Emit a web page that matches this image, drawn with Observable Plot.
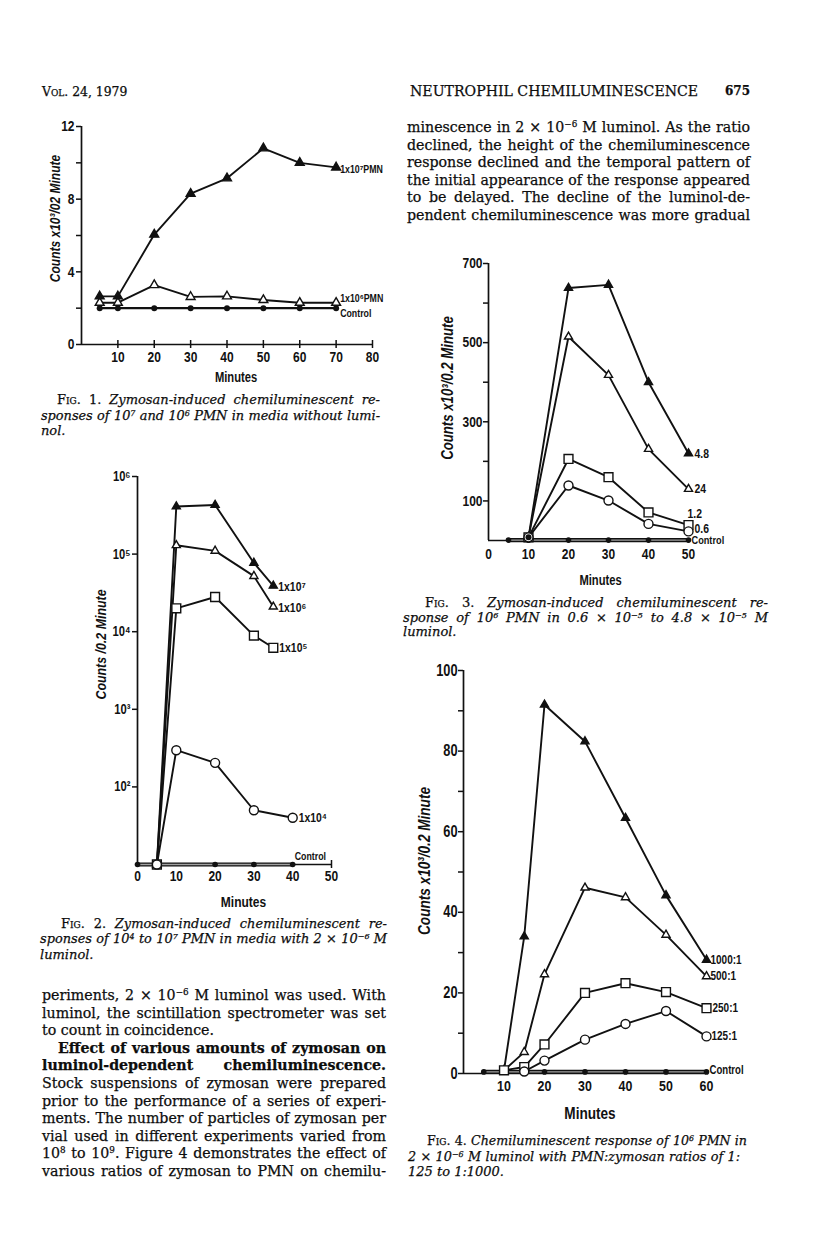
<!DOCTYPE html>
<html><head><meta charset="utf-8">
<script src="https://cdn.jsdelivr.net/npm/d3@7"></script>
<script src="https://cdn.jsdelivr.net/npm/@observablehq/plot@0.6"></script>
<style>
html,body{margin:0;padding:0;background:#fff;}
#page{position:relative;width:816px;height:1252px;overflow:hidden;background:#fff;color:#0d0d0d;}
.ln{position:absolute;font-family:"DejaVu Serif","Liberation Serif",serif;font-size:14.2px;line-height:18px;white-space:nowrap;-webkit-text-stroke:0.25px #0d0d0d;}
.cap{font-size:13px;line-height:16px;}
.sc{font-variant:small-caps;}
.b{font-weight:bold;}
sup{font-size:0.62em;line-height:0;vertical-align:0.55em;}
.fig{position:absolute;}
.fig svg{overflow:visible;}
</style></head>
<body><div id="page"></div>
<script>
// ================= DATA =================
// Fig. 1 (counts x10^3 / 0.2 min, no luminol)
const fig1Minutes = [5, 10, 20, 30, 40, 50, 60, 70];
const fig1PMN7 = [2.65, 2.65, 6.05, 8.3, 9.15, 10.8, 10.0, 9.75];
const fig1PMN6 = [2.3, 2.3, 3.27, 2.62, 2.65, 2.45, 2.3, 2.3];
const fig1Control = [2.0, 2.0, 2.0, 2.0, 2.0, 2.0, 2.0, 2.0];
const fig1Labels = ["1x10⁷PMN", "1x10⁶PMN", "Control"];
const fig1XTicks = [10, 20, 30, 40, 50, 60, 70, 80];
const fig1YTicks = [0, 2, 4, 6, 8, 10, 12];
const fig1YTickLabels = ["0", "", "4", "", "8", "", "12"];

// Fig. 2 (counts / 0.2 min, log scale)
const fig2Minutes = [5, 10, 20, 30, 35];
const fig2PMN7 = [10, 410000, 430000, 77000, 39000];
const fig2PMN6 = [10, 130000, 110000, 52000, 21000];
const fig2PMN5 = [10, 20000, 28000, 8900, 6200];
const fig2PMN4Minutes = [5, 10, 20, 30, 40];
const fig2PMN4 = [10, 297, 204, 50, 40];
const fig2ControlMinutes = [0, 5, 20, 30, 40];
const fig2Control = [10, 10, 10, 10, 10];
const fig2Labels = ["1x10⁷", "1x10⁶", "1x10⁵", "1x10⁴", "Control"];
const fig2XTicks = [0, 10, 20, 30, 40, 50];
const fig2YTicks = [100, 1000, 10000, 100000, 1000000];
const fig2YTickLabels = ["10²", "10³", "10⁴", "10⁵", "10⁶"];

// Fig. 3 (luminol concentrations)
const fig3Minutes = [10, 20, 30, 40, 50];
const fig3L48 = [8, 638, 646, 400, 220];
const fig3L24 = [8, 515, 418, 231, 130];
const fig3L12 = [8, 206, 160, 71, 39];
const fig3L06 = [8, 139, 101, 42, 23];
const fig3ControlMinutes = [5, 10, 20, 30, 40, 50];
const fig3Control = [1, 1, 1, 1, 1, 1];
const fig3Labels = ["4.8", "24", "1.2", "0.6", "Control"];
const fig3XTicks = [0, 10, 20, 30, 40, 50];
const fig3YTicks = [100, 200, 300, 400, 500, 600, 700];
const fig3YTickLabels = ["100", "", "300", "", "500", "", "700"];

// Fig. 4 (PMN:zymosan ratios)
const fig4Minutes = [10, 15, 20, 30, 40, 50, 60];
const fig4R1000 = [0.8, 34, 91.5, 82.4, 63.4, 44.2, 28.2];
const fig4R500 = [0.8, 5.3, 24.6, 46.1, 43.7, 34.4, 24.1];
const fig4R250 = [0.8, 1.6, 7.2, 20.0, 22.4, 20.2, 16.2];
const fig4R125Minutes = [15, 20, 30, 40, 50, 60];
const fig4R125 = [0.5, 3.2, 8.4, 12.3, 15.5, 9.2];
const fig4ControlMinutes = [5, 10, 15, 20, 30, 40, 50, 60];
const fig4Control = [0.4, 0.4, 0.4, 0.4, 0.4, 0.4, 0.4, 0.4];
const fig4Labels = ["1000:1", "500:1", "250:1", "125:1", "Control"];
const fig4XTicks = [10, 20, 30, 40, 50, 60];
const fig4YTicks = [0, 10, 20, 30, 40, 50, 60, 70, 80, 90, 100];
const fig4YTickLabels = ["0", "", "20", "", "40", "", "60", "", "80", "", "100"];

// ================= PAGE TEXT =================
const headerLeft = '<span class="sc">Vol.</span> 24, 1979';
const headerTitle = 'NEUTROPHIL CHEMILUMINESCENCE';
const headerPage = '675';
const rightBody = [
  'minescence in 2 × 10<sup>−6</sup> M luminol. As the ratio',
  'declined, the height of the chemiluminescence',
  'response declined and the temporal pattern of',
  'the initial appearance of the response appeared',
  'to be delayed. The decline of the luminol-de-',
  'pendent chemiluminescence was more gradual'
];
const leftBody = [
  'periments, 2 × 10<sup>−6</sup> M luminol was used. With',
  'luminol, the scintillation spectrometer was set',
  'to count in coincidence.',
  'Effect of various amounts of zymosan on',
  'luminol-dependent chemiluminescence.',
  'Stock suspensions of zymosan were prepared',
  'prior to the performance of a series of experi-',
  'ments. The number of particles of zymosan per',
  'vial used in different experiments varied from',
  '10<sup>8</sup> to 10<sup>9</sup>. Figure 4 demonstrates the effect of',
  'various ratios of zymosan to PMN on chemilu-'
];
const cap1 = [
  '<span class="sc">Fig.</span> 1. <i>Zymosan-induced chemiluminescent re-</i>',
  '<i>sponses of 10<sup>7</sup> and 10<sup>6</sup> PMN in media without lumi-</i>',
  '<i>nol.</i>'
];
const cap2 = [
  '<span class="sc">Fig.</span> 2. <i>Zymosan-induced chemiluminescent re-</i>',
  '<i>sponses of 10<sup>4</sup> to 10<sup>7</sup> PMN in media with 2 × 10<sup>−6</sup> M</i>',
  '<i>luminol.</i>'
];
const cap3 = [
  '<span class="sc">Fig.</span> 3. <i>Zymosan-induced chemiluminescent re-</i>',
  '<i>sponse of 10<sup>6</sup> PMN in 0.6 × 10<sup>−5</sup> to 4.8 × 10<sup>−5</sup> M</i>',
  '<i>luminol.</i>'
];
const cap4 = [
  '<span class="sc">Fig.</span> 4. <i>Chemiluminescent response of 10<sup>6</sup> PMN in</i>',
  '<i>2 × 10<sup>−6</sup> M luminol with PMN:zymosan ratios of 1:</i>',
  '<i>125 to 1:1000.</i>'
];

// ================= HELPERS =================
const page = document.getElementById("page");
const INK = "#111";
const SANS = '"Liberation Sans",Arial,"DejaVu Sans",sans-serif';
const CONDENSE = 0.8;

function putLine(html, x, yc, w, opts = {}) {
  const {cls = "", justify = false, exact = false} = opts;
  const d = document.createElement("div");
  d.className = "ln " + cls;
  d.innerHTML = html;
  page.appendChild(d);
  const cs = getComputedStyle(d);
  const lh = parseFloat(cs.lineHeight);
  const fs = parseFloat(cs.fontSize);
  d.style.top = (yc - lh / 2) + "px";
  d.style.left = x + "px";
  const nat = d.getBoundingClientRect().width;
  if (exact) d.style.fontSize = (fs * w / nat) + "px";
  else if (nat > w - 2) d.style.fontSize = (fs * (w - 2) / nat) + "px";
  if (justify) {
    d.style.width = w + "px";
    d.style.whiteSpace = "normal";
    d.style.textAlign = "justify";
    d.style.textAlignLast = "justify";
  }
}

function rows(minutes, values) { return minutes.map((m, i) => ({minute: m, value: values[i]})); }

function seriesMarks(s) {
  return [
    Plot.line(s.rows, {x: "minute", y: "value", stroke: INK, strokeWidth: 1.9}),
    Plot.dot(s.rows, {x: "minute", y: "value", symbol: s.symbol, fill: s.fill, stroke: INK, strokeWidth: 1.4, r: s.r})
  ];
}
function controlDouble(r) {
  return [
    Plot.line(r, {x: "minute", y: "value", stroke: INK, strokeWidth: 4.2}),
    Plot.line(r, {x: "minute", y: "value", stroke: "#a0a0a0", strokeWidth: 1.4})
  ];
}
function labelMark(r, text, dx, dy, size) {
  const last = r[r.length - 1];
  return Plot.text([last], {x: "minute", y: "value", text: () => text, dx, dy, textAnchor: "start", fontSize: size, fontWeight: "bold", fill: INK});
}
function yTitle(text, dx, dy, size) {
  return Plot.text([text], {frameAnchor: "left", textAnchor: "middle", lineAnchor: "middle", rotate: -90, dx, dy, fontSize: size, fontStyle: "italic", fontWeight: "bold", fill: INK});
}
function xTitle(text, dx, dy, size) {
  return Plot.text([text], {frameAnchor: "bottom", textAnchor: "middle", lineAnchor: "middle", dx, dy, fontSize: size, fontWeight: "bold", fill: INK});
}
// horizontally condense every label, like the condensed sans type of the original
function condense(svg, k) {
  svg.querySelectorAll("text").forEach(t => {
    const tr = t.getAttribute("transform");
    if (tr) t.setAttribute("transform", tr + ` scale(${k},1)`);
    else {
      const x = +(t.getAttribute("x") || 0), y = +(t.getAttribute("y") || 0);
      t.removeAttribute("x"); t.removeAttribute("y");
      t.setAttribute("transform", `translate(${x},${y}) scale(${k},1)`);
    }
  });
}
function place(svg, left, top) {
  const d = document.createElement("div");
  d.className = "fig";
  d.style.left = left + "px";
  d.style.top = top + "px";
  d.appendChild(svg);
  page.appendChild(d);
  condense(svg, CONDENSE);
}
const baseStyle = {fontFamily: SANS, fontWeight: "bold", fontSize: "15px", color: INK, background: "transparent", overflow: "visible"};

// ================= FIG 1 =================
{
  const ctrl = rows(fig1Minutes, fig1Control);
  const p6 = rows(fig1Minutes, fig1PMN6);
  const p7 = rows(fig1Minutes, fig1PMN7);
  const svg = Plot.plot({
    width: 370, height: 280, marginLeft: 51, marginRight: 28, marginTop: 16, marginBottom: 46,
    x: {domain: [0, 80]}, y: {domain: [0, 12]},
    style: baseStyle,
    marks: [
      Plot.ruleX([0], {stroke: INK, strokeWidth: 1.7}),
      Plot.ruleY([0], {stroke: INK, strokeWidth: 1.7}),
      Plot.axisY(fig1YTicks, {tickSize: 5, tickPadding: 2, strokeWidth: 1.5, label: null, fontSize: 15,
        tickFormat: d => fig1YTickLabels[fig1YTicks.indexOf(d)]}),
      Plot.axisX(fig1XTicks, {tickSize: 8, dy: -4, strokeWidth: 1.5, label: null, tickFormat: () => ""}),
      Plot.axisX(fig1XTicks, {tickSize: 0, tickPadding: 7, label: null, fontSize: 15}),
      yTitle("Counts x10³/02 Minute", -26, -17, 15),
      xTitle("Minutes", 9, 33, 14),
      Plot.line(ctrl, {x: "minute", y: "value", stroke: INK, strokeWidth: 2.2}),
      Plot.dot(ctrl, {x: "minute", y: "value", fill: INK, r: 3}),
      ...seriesMarks({rows: p6, symbol: "triangle", fill: "white", r: 3.3}),
      ...seriesMarks({rows: p7, symbol: "triangle", fill: INK, r: 3.3}),
      labelMark(p7, fig1Labels[0], 4, 2, 11),
      labelMark(p6, fig1Labels[1], 4, -4, 11),
      labelMark(ctrl, fig1Labels[2], 4, 5, 11)
    ]
  });
  place(svg, 30, 110);
}

// ================= FIG 2 =================
{
  const ctrl = rows(fig2ControlMinutes, fig2Control);
  const p7 = rows(fig2Minutes, fig2PMN7);
  const p6 = rows(fig2Minutes, fig2PMN6);
  const p5 = rows(fig2Minutes, fig2PMN5);
  const p4 = rows(fig2PMN4Minutes, fig2PMN4);
  const svg = Plot.plot({
    width: 330, height: 450, marginLeft: 77, marginRight: 59, marginTop: 16, marginBottom: 46,
    x: {domain: [0, 50]}, y: {type: "log", domain: [10, 1e6]},
    style: baseStyle,
    marks: [
      Plot.ruleX([0], {stroke: INK, strokeWidth: 1.7}),
      Plot.ruleY([10], {stroke: INK, strokeWidth: 1.7}),
      Plot.axisY(fig2YTicks, {tickSize: 5, tickPadding: 2, strokeWidth: 1.5, label: null, fontSize: 14,
        tickFormat: d => fig2YTickLabels[fig2YTicks.indexOf(d)]}),
      Plot.axisX([50], {tickSize: 8, dy: -4, strokeWidth: 1.5, label: null, tickFormat: () => ""}),
      Plot.axisX(fig2XTicks, {tickSize: 0, tickPadding: 6, label: null, fontSize: 15}),
      yTitle("Counts /0.2 Minute", -36, -26, 15.5),
      xTitle("Minutes", 9, 38, 15),
      ...controlDouble(ctrl),
      Plot.dot(ctrl, {x: "minute", y: "value", fill: INK, r: 2.8}),
      ...seriesMarks({rows: p7, symbol: "triangle", fill: INK, r: 3}),
      ...seriesMarks({rows: p6, symbol: "triangle", fill: "white", r: 3}),
      ...seriesMarks({rows: p5, symbol: "square", fill: "white", r: 5}),
      ...seriesMarks({rows: p4, symbol: "circle", fill: "white", r: 4.5}),
      labelMark(p7, fig2Labels[0], 5, 1, 13),
      labelMark(p6, fig2Labels[1], 5, 1, 13),
      labelMark(p5, fig2Labels[2], 6, 0, 13),
      labelMark(p4, fig2Labels[3], 6, 0, 13),
      labelMark(ctrl, fig2Labels[4], 2, -8, 11)
    ]
  });
  place(svg, 60, 460);
}

// ================= FIG 3 =================
{
  const ctrl = rows(fig3ControlMinutes, fig3Control);
  const l48 = rows(fig3Minutes, fig3L48);
  const l24 = rows(fig3Minutes, fig3L24);
  const l12 = rows(fig3Minutes, fig3L12);
  const l06 = rows(fig3Minutes, fig3L06);
  const svg = Plot.plot({
    width: 340, height: 340, marginLeft: 68, marginRight: 72, marginTop: 13, marginBottom: 50,
    x: {domain: [0, 50]}, y: {domain: [0, 700]},
    style: baseStyle,
    marks: [
      Plot.ruleX([0], {stroke: INK, strokeWidth: 1.7}),
      Plot.ruleY([0], {stroke: INK, strokeWidth: 1.7}),
      Plot.axisY(fig3YTicks, {tickSize: 5, tickPadding: 1, strokeWidth: 1.5, label: null, fontSize: 15,
        tickFormat: d => fig3YTickLabels[fig3YTicks.indexOf(d)]}),
      Plot.axisX(fig3XTicks, {tickSize: 0, tickPadding: 8, label: null, fontSize: 15}),
      yTitle("Counts x10³/0.2 Minute", -41, -14, 16.5),
      xTitle("Minutes", 12, 40, 14),
      ...controlDouble(ctrl),
      Plot.dot(ctrl, {x: "minute", y: "value", fill: INK, r: 2.8}),
      ...seriesMarks({rows: l48, symbol: "triangle", fill: INK, r: 3}),
      ...seriesMarks({rows: l24, symbol: "triangle", fill: "white", r: 3}),
      ...seriesMarks({rows: l12, symbol: "square", fill: "white", r: 5}),
      ...seriesMarks({rows: l06, symbol: "circle", fill: "white", r: 4.5}),
      Plot.dot([l48[0]], {x: "minute", y: "value", fill: INK, r: 3}),
      labelMark(l48, fig3Labels[0], 6, 0, 13),
      labelMark(l24, fig3Labels[1], 6, 0, 13),
      labelMark(l12, fig3Labels[2], -1, -11, 13),
      labelMark(l06, fig3Labels[3], 6, -3, 13),
      labelMark(ctrl, fig3Labels[4], 3, 0, 11.5)
    ]
  });
  place(svg, 420, 250);
}

// ================= FIG 4 =================
{
  const ctrl = rows(fig4ControlMinutes, fig4Control);
  const r1000 = rows(fig4Minutes, fig4R1000);
  const r500 = rows(fig4Minutes, fig4R500);
  const r250 = rows(fig4Minutes, fig4R250);
  const r125 = rows(fig4R125Minutes, fig4R125);
  const svg = Plot.plot({
    width: 360, height: 480, marginLeft: 63, marginRight: 54, marginTop: 15, marginBottom: 62,
    x: {domain: [0, 60]}, y: {domain: [0, 100]},
    style: baseStyle,
    marks: [
      Plot.ruleX([0], {stroke: INK, strokeWidth: 1.7}),
      Plot.ruleY([0], {stroke: INK, strokeWidth: 1.7}),
      Plot.axisY(fig4YTicks, {tickSize: 5, tickPadding: 1, strokeWidth: 1.5, label: null, fontSize: 16,
        tickFormat: d => fig4YTickLabels[fig4YTicks.indexOf(d)]}),
      Plot.axisX(fig4XTicks, {tickSize: 0, tickPadding: 6, label: null, fontSize: 15.5}),
      yTitle("Counts x10³/0.2 Minute", -39, -11, 17),
      xTitle("Minutes", 5, 40, 17),
      ...controlDouble(ctrl),
      Plot.dot(ctrl, {x: "minute", y: "value", fill: INK, r: 2.8}),
      ...seriesMarks({rows: r1000, symbol: "triangle", fill: INK, r: 3}),
      ...seriesMarks({rows: r500, symbol: "triangle", fill: "white", r: 3}),
      ...seriesMarks({rows: r250, symbol: "square", fill: "white", r: 5}),
      ...seriesMarks({rows: r125, symbol: "circle", fill: "white", r: 4.5}),
      labelMark(r1000, fig4Labels[0], 4, 0, 12.5),
      labelMark(r500, fig4Labels[1], 4, 0, 12.5),
      labelMark(r250, fig4Labels[2], 6, 0, 12.5),
      labelMark(r125, fig4Labels[3], 5, 0, 12.5),
      labelMark(ctrl, fig4Labels[4], 3, -2, 12)
    ]
  });
  place(svg, 400, 655);
}

// ================= TEXT =================
putLine(headerLeft, 42, 91.5, 85, {exact: true});
putLine(headerTitle, 410, 91, 288, {exact: true});
putLine(headerPage, 725, 91, 25, {exact: true, cls: "b"});

rightBody.forEach((t, i) => putLine(t, 407, 127 + i * 17.6, 343, {justify: true}));

leftBody.forEach((t, i) => {
  const y = 995 + i * 17.6;
  if (i === 2) putLine(t, 42, y, 344);
  else if (i === 3) putLine(t, 58, y, 328, {justify: true, cls: "b"});
  else if (i === 4) putLine(t, 42, y, 344, {justify: true, cls: "b"});
  else putLine(t, 42, y, 344, {justify: true});
});

function caption(lines, x0, xi, x1, ys, line2Right) {
  putLine(lines[0], xi, ys[0], x1 - xi, {justify: true, cls: "cap"});
  putLine(lines[1], x0, ys[1], (line2Right || x1) - x0, {justify: true, cls: "cap"});
  putLine(lines[2], x0, ys[2], x1 - x0, {cls: "cap"});
}
caption(cap1, 41, 57, 380, [400, 415.5, 431]);
caption(cap2, 40, 61, 387, [923.5, 939, 954.5]);
caption(cap3, 403, 425, 768, [603, 617.5, 632]);
caption(cap4, 408, 427, 747, [1141, 1156.5, 1172], 740);
</script>
</body></html>
